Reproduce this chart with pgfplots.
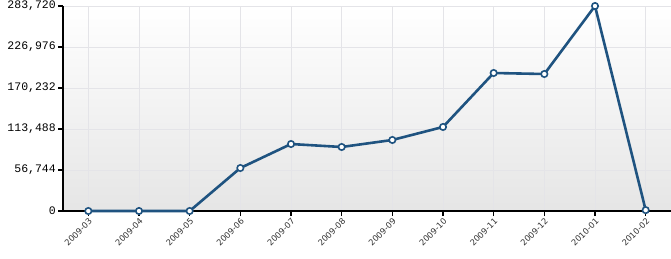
\documentclass[border=0pt]{standalone}
\usepackage{pgfplots}
\pgfplotsset{compat=1.18}
\usepackage{fontspec}
\setmainfont{DejaVu Sans}
\newfontfamily\monof{Liberation Mono}
\definecolor{linec}{HTML}{1F5380}
\begin{document}
\begin{tikzpicture}
\fill[white] (0pt,0pt) rectangle (671pt,258pt);
\useasboundingbox (0pt,0pt) rectangle (671pt,258pt);
\begin{axis}[
  at={(63pt,47pt)}, anchor=south west,
  scale only axis, width=608pt, height=205pt,
  xmin=-0.5, xmax=11.5, ymin=0, ymax=283720,
  axis lines=left, axis line style={-, black, line width=1.6pt},
  axis background/.style={shade, top color=white, bottom color=black!10},
  xtick={0,...,11},
  xticklabels={2009-03,2009-04,2009-05,2009-06,2009-07,2009-08,2009-09,2009-10,2009-11,2009-12,2010-01,2010-02},
  xticklabel style={font=\fontsize{8.3}{9}\selectfont, rotate=45, anchor=north east, text=black!80, inner sep=1pt},
  ytick={0,56744,113488,170232,226976,283720},
  scaled y ticks=false,
  yticklabel style={font=\monof\fontsize{11.5}{12}\selectfont, inner sep=2pt},
  /pgf/number format/.cd, fixed, precision=0, 1000 sep={,}, assume math mode=true,
  /pgfplots/.cd,
  major tick length=5pt,
  tick style={black, line width=1.6pt},
  xtick align=outside, ytick align=outside,
  xmajorgrids, ymajorgrids,
  grid style={white!88!blue!40!gray!30, line width=0.6pt},
  clip=false,
]
\addplot[linec, line width=2.6pt, mark=*, mark size=3.2pt,
  mark options={fill=white, draw=linec, line width=1.6pt}]
  coordinates {
  (0,0) (1,0) (2,0) (3,59500) (4,92700) (5,88600) (6,98300) (7,116300)
  (8,191000) (9,189600) (10,283720) (11,1200)
  };
\end{axis}
\end{tikzpicture}
\end{document}
